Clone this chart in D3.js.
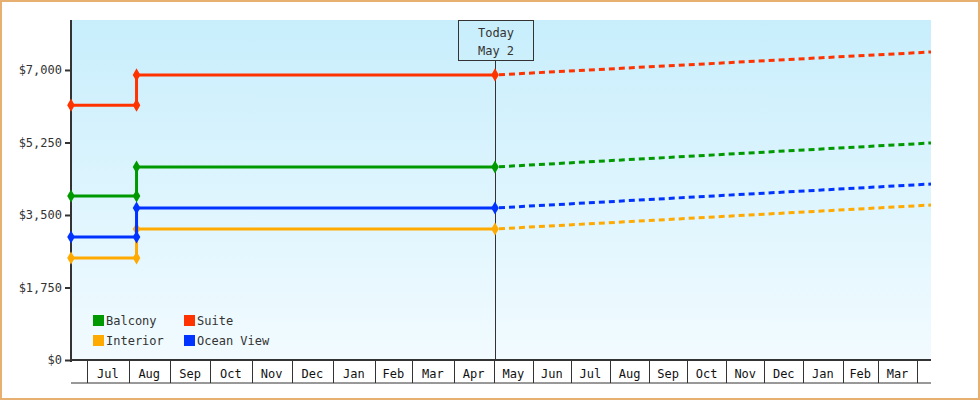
<!DOCTYPE html>
<html><head><meta charset="utf-8">
<script src="https://cdn.jsdelivr.net/npm/d3@7"></script>
<style>body{margin:0;background:#fff}</style>
</head><body><div id="chart"></div>
<script>
var series = ["Balcony", "Suite", "Interior", "Ocean View"];
var colors = ["#009900", "#ff3300", "#ffaa00", "#0033ff"];
var before = [3958, 6150, 2462, 2969];
var after = [4659, 6880, 3162, 3669];
var projected = [5238, 7434, 3741, 4248];
var yTicks = [0, 1750, 3500, 5250, 7000];

var parse = d3.timeParse("%Y-%m-%d");
var startDate = parse("2012-06-19"), stepDate = parse("2012-08-07"),
    today = parse("2013-05-02"), endDate = parse("2014-04-12");

var svg = d3.select("#chart").append("svg").attr("width", 980).attr("height", 400)
  .style("font-family", "DejaVu Sans Mono, monospace").style("font-size", "12px");

svg.append("rect").attr("x", 1).attr("y", 1).attr("width", 978).attr("height", 398)
  .attr("fill", "#fff").attr("stroke", "#e8b070").attr("stroke-width", 2);

var grad = svg.append("defs").append("linearGradient").attr("id", "bg")
  .attr("x1", 0).attr("y1", 0).attr("x2", 0).attr("y2", 1);
grad.append("stop").attr("offset", "0").attr("stop-color", "#c8eefc");
grad.append("stop").attr("offset", "1").attr("stop-color", "#f2fbff");

var x = d3.scaleTime().domain([startDate, today, endDate]).range([71, 495, 931]);
var y = d3.scaleLinear().domain([0, 8206]).range([360, 20]);

svg.append("rect").attr("x", 71).attr("y", 20).attr("width", 860).attr("height", 340)
  .attr("fill", "url(#bg)");

// y axis
var ya = svg.append("g").attr("transform", "translate(71,0)")
  .call(d3.axisLeft(y).tickValues(yTicks).tickSize(6).tickPadding(3)
    .tickFormat(d => "$" + d3.format(",")(d)));
ya.select(".domain").remove();
ya.selectAll("line").attr("stroke", "#333").attr("stroke-width", 2);
ya.selectAll("text").attr("fill", "#333").style("font-family", "DejaVu Sans Mono, monospace").style("font-size", "12px");
svg.append("line").attr("x1", 71).attr("x2", 71).attr("y1", 20).attr("y2", 362)
  .attr("stroke", "#333").attr("stroke-width", 2);

// x axis month cells
var months = d3.timeMonth.range(d3.timeMonth.ceil(startDate), endDate);
var xa = svg.append("g");
xa.append("line").attr("x1", 71).attr("x2", 931).attr("y1", 360).attr("y2", 360).attr("stroke", "#333").attr("stroke-width", 2);
xa.append("line").attr("x1", 71).attr("x2", 931).attr("y1", 383).attr("y2", 383).attr("stroke", "#333");
xa.selectAll(".sep").data(months).enter().append("line")
  .attr("x1", d => Math.round(x(d)) + 0.5).attr("x2", d => Math.round(x(d)) + 0.5)
  .attr("y1", 360).attr("y2", 383).attr("stroke", "#333");
xa.selectAll(".lab").data(months.filter(d => x(d3.timeMonth.offset(d, 1)) <= 931)).enter().append("text")
  .attr("x", d => (x(d) + x(d3.timeMonth.offset(d, 1))) / 2).attr("y", 378)
  .attr("text-anchor", "middle").attr("fill", "#111").text(d3.timeFormat("%b"));

// today marker
svg.append("line").attr("x1", 495.5).attr("x2", 495.5).attr("y1", 60).attr("y2", 360).attr("stroke", "#333");
svg.append("rect").attr("x", 458.5).attr("y", 20.5).attr("width", 75).attr("height", 40)
  .attr("fill", "none").attr("stroke", "#333");
svg.append("text").attr("x", 496).attr("y", 37).attr("text-anchor", "middle").attr("fill", "#333").text("Today");
svg.append("text").attr("x", 496).attr("y", 55).attr("text-anchor", "middle").attr("fill", "#333").text("May 2");

var line = d3.line().x(d => x(d[0])).y(d => y(d[1]));
var diamond = d3.symbol().type(d3.symbolDiamond).size(50);

series.forEach(function (s, i) {
  var solid = [[startDate, before[i]], [stepDate, before[i]], [stepDate, after[i]], [today, after[i]]];
  svg.append("path").attr("d", line(solid)).attr("fill", "none")
    .attr("stroke", colors[i]).attr("stroke-width", 3);
  svg.append("path").attr("d", line([[today, after[i]], [endDate, projected[i]]])).attr("fill", "none")
    .attr("stroke", colors[i]).attr("stroke-width", 3).attr("stroke-dasharray", "6,4").attr("stroke-dashoffset", -4);
  svg.selectAll(null).data(solid).enter().append("path")
    .attr("d", diamond).attr("fill", colors[i])
    .attr("transform", d => "translate(" + x(d[0]) + "," + y(d[1]) + ")");
});

// legend
var leg = svg.append("g").selectAll("g").data(series).enter().append("g")
  .attr("transform", (d, i) => "translate(" + (93 + (i % 2) * 91) + "," + (315 + Math.floor(i / 2) * 20) + ")");
leg.append("rect").attr("width", 11).attr("height", 11).attr("fill", (d, i) => colors[i]);
leg.append("text").attr("x", 13).attr("y", 10).attr("fill", "#333").text(d => d);
</script></body></html>
